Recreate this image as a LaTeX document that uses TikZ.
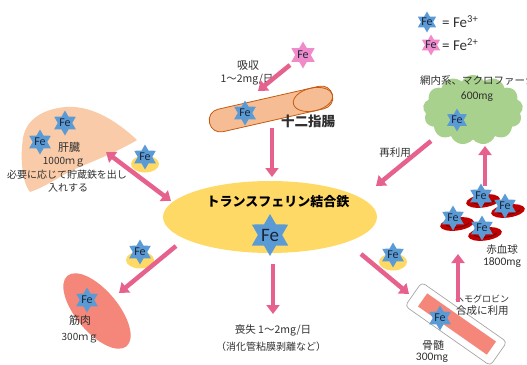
\documentclass[tikz,border=0pt]{standalone}
\usepackage{fontspec}
\setmainfont{Carlito}
\newfontfamily\jp{Noto Sans CJK JP}
\usetikzlibrary{shapes.geometric,shapes.symbols,arrows.meta}

\definecolor{feblue}{HTML}{5B9BD5}
\definecolor{fepink}{HTML}{F08BCB}
\definecolor{flowpink}{HTML}{E6628C}
\definecolor{tfgold}{HTML}{FFD966}
\definecolor{liverpeach}{HTML}{F9CBA8}
\definecolor{gutorange}{HTML}{F6BC93}
\definecolor{gutline}{HTML}{C55A11}
\definecolor{salmon}{HTML}{F4877A}
\definecolor{rbcred}{HTML}{C00000}
\definecolor{rbcdark}{HTML}{5A0000}
\definecolor{mpgreen}{HTML}{A9D18E}
\definecolor{fetext}{HTML}{1C2438}
\definecolor{txt}{HTML}{303030}

\tikzset{
  starbase/.style={star, star points=6, star point ratio=1.73, inner sep=0pt},
  festar/.style={starbase, fill=feblue, minimum size=25pt,
    label={[text=fetext, font=\fontsize{12}{12}\selectfont]center:Fe}},
  fepinkstar/.style={festar, fill=fepink},
  legendstar/.style={minimum size=21pt},
  bigstar/.style={starbase, fill=feblue, minimum size=42pt,
    label={[text=fetext, font=\fontsize{19}{19}\selectfont]center:Fe}},
  flow/.style={draw=flowpink, line width=4.5pt, -{Triangle[width=13pt,length=9pt]}},
  flowboth/.style={draw=flowpink, line width=4.5pt,
    {Triangle[width=13pt,length=9pt]}-{Triangle[width=13pt,length=9pt]}},
  carrier/.style={ellipse, fill=tfgold, minimum width=28pt, minimum height=17pt, inner sep=0pt},
  rbc/.style={ellipse, fill=rbcred, minimum width=34pt, minimum height=13pt, inner sep=0pt, rotate=8},
  jlabel/.style={text=txt, inner sep=0pt, font=\jp\fontsize{10.5}{10.5}\selectfont},
  jsmall/.style={jlabel, font=\jp\fontsize{10}{10}\selectfont},
  numlabel/.style={text=txt, inner sep=0pt, font=\fontsize{11.5}{11.5}\selectfont},
}

\begin{document}
\begin{tikzpicture}[x=1pt, y=-1pt]
\useasboundingbox (0,0) rectangle (527,364);

% ---------- legend ----------
\node[festar, legendstar] (lgblue) at (427,22) {};
\node[anchor=west, text=txt, inner sep=0pt, font=\fontsize{15}{15}\selectfont] (lgbluetxt) at (442,22) {= Fe\textsuperscript{3+}};
\node[fepinkstar, legendstar] (lgpink) at (431,45) {};
\node[anchor=west, text=txt, inner sep=0pt, font=\fontsize{15}{15}\selectfont] (lgpinktxt) at (442,45) {= Fe\textsuperscript{2+}};

% ---------- liver ----------
\path[fill=liverpeach] (137,140)
  .. controls (118,122) and (92,105) .. (66,107)
  .. controls (42,109) and (26,120) .. (23,138)
  .. controls (20,158) and (22,182) .. (30,192)
  .. controls (48,186) and (62,174) .. (82,166)
  .. controls (104,157) and (124,148) .. (137,140) -- cycle;
\node[festar] (liverfe1) at (65,123) {};
\node[festar] (liverfe2) at (40,142) {};
\node[jlabel, font=\jp\fontsize{11}{11}\selectfont] (livername) at (69,147) {肝臓};
\node[jsmall] (liveramt) at (64,162) {1000ｍｇ};
\node[jsmall] (livernote1) at (67,175) {必要に応じて貯蔵鉄を出し};
\node[jsmall] (livernote2) at (68,188) {入れする};

% ---------- duodenum ----------
\begin{scope}[shift={(271,109)}, rotate=12.8]
  \draw[fill=gutorange, draw=gutline, line width=0.8pt, rounded corners=11pt]
    (-63,-11.5) rectangle (63,11.5);
  \draw[draw=gutline, line width=0.8pt] (43,0) ellipse [x radius=20, y radius=11.5];
\end{scope}
\node[festar] (gutfe) at (245,113) {};
\node[text=txt, inner sep=0pt, font=\jp\bfseries\fontsize{13.5}{13.5}\selectfont] (gutname) at (308,121) {十二指腸};

% absorbed ferrous iron
\node[fepinkstar, minimum size=27pt] (infe) at (303,55) {};
\node[jlabel, font=\jp\fontsize{11}{11}\selectfont] (absorb1) at (248,65) {吸収};
\node[jlabel] (absorb2) at (247,80) {1～2mg/日};

% ---------- reticuloendothelial system ----------
\node[cloud, cloud puffs=13, cloud puff arc=120, aspect=1.45, fill=mpgreen,
  minimum width=100pt, minimum height=70pt, inner sep=0pt] (mp) at (473,110) {};
\node[jlabel, anchor=west] (mpname) at (420,81) {網内系、マクロファージ};
\node[numlabel] (mpamt) at (477,97) {600mg};
\node[festar, minimum size=23pt] (mpfe) at (457,120) {};

% ---------- red blood cells ----------
\foreach \n/\cx/\cy in {a/483/201, b/508/211, c/457/224, d/485/234}{
  \node[rbc] (rbc\n) at (\cx,\cy) {};
  \draw[rbcdark, line width=0.7pt] (\cx-11,\cy+1) .. controls (\cx-6,\cy+5) and (\cx+6,\cy+4) .. (\cx+12,\cy-1);
}
\node[festar] (rbcfea) at (481,196) {};
\node[festar] (rbcfeb) at (505,206) {};
\node[festar] (rbcfec) at (453,218) {};
\node[festar] (rbcfed) at (482,228) {};
\node[jlabel] (rbcname) at (502,250) {赤血球};
\node[numlabel] (rbcamt) at (502,263) {1800mg};

% ---------- transferrin-bound iron ----------
\node[ellipse, fill=tfgold, minimum width=214pt, minimum height=72pt, inner sep=0pt] (tf) at (270,217) {};
\node[text=black, inner sep=0pt, font=\jp\bfseries\fontsize{13}{13}\selectfont] (tfname) at (278,202) {トランスフェリン結合鉄};
\node[bigstar] (tffe) at (270,235) {};

% ---------- muscle ----------
\node[ellipse, fill=salmon, minimum width=92pt, minimum height=42pt, inner sep=0pt, rotate=-50] (muscle) at (97,311) {};
\node[festar] (musclefe) at (87,300) {};
\node[jlabel, font=\jp\fontsize{11}{11}\selectfont] (musclename) at (80,320) {筋肉};
\node[jsmall] (muscleamt) at (80,338) {300ｍｇ};

% ---------- bone marrow ----------
\node[rectangle, rounded corners=4pt, draw=black!35, line width=0.7pt, fill=white,
  minimum width=104pt, minimum height=29pt, rotate=-35] (bmcase) at (456,324) {};
\node[rectangle, fill=salmon, minimum width=84pt, minimum height=16pt, rotate=-35] (bm) at (457,324) {};
\node[festar] (bmfe) at (440,318) {};
\node[jlabel, font=\jp\fontsize{11}{11}\selectfont] (bmname) at (433,345) {骨髄};
\node[numlabel] (bmamt) at (432,358) {300mg};
\node[jsmall, anchor=west, font=\jp\fontsize{9}{9}\selectfont] (hb1) at (455,299) {ヘモグロビン};
\node[jlabel, anchor=west] (hb2) at (456,311) {合成に利用};

% ---------- transferrin carriers ----------
\node[carrier] (carl) at (145,164) {};
\node[festar] (carlfe) at (145,157) {};
\node[carrier] (carm) at (140,260) {};
\node[festar] (carmfe) at (140,252) {};
\node[carrier] (carb) at (393,262) {};
\node[festar] (carbfe) at (393,255) {};

% ---------- loss ----------
\node[jlabel] (loss1) at (273,330) {喪失 1～2mg/日};
\node[jsmall] (loss2) at (271,347) {（消化管粘膜剥離など）};
\node[jlabel] (reuse) at (395,153) {再利用};

% ---------- flow arrows ----------
\coordinate (absS) at (290,65);   \coordinate (absE) at (258,91);
\coordinate (gutS) at (272,128);  \coordinate (gutE) at (272,177);
\coordinate (livS) at (106,152);  \coordinate (livE) at (171,201);
\coordinate (musS) at (176,246);  \coordinate (musE) at (119,293);
\coordinate (losS) at (273,264);  \coordinate (losE) at (273,314);
\coordinate (bmS)  at (361,254);  \coordinate (bmE)  at (409,294);
\coordinate (hbS)  at (458,302);  \coordinate (hbE)  at (458,254);
\coordinate (rbS)  at (485,186);  \coordinate (rbE)  at (485,146);
\coordinate (reS)  at (431,141);  \coordinate (reE)  at (376,186);

\draw[flow] (absS) -- (absE);
\draw[flow] (gutS) -- (gutE);
\draw[flowboth] (livS) -- (livE);
\draw[flow] (musS) -- (musE);
\draw[flow] (losS) -- (losE);
\draw[flow] (bmS) -- (bmE);
\draw[flow] (hbS) -- (hbE);
\draw[flow] (rbS) -- (rbE);
\draw[flow] (reS) -- (reE);
\end{tikzpicture}
\end{document}
